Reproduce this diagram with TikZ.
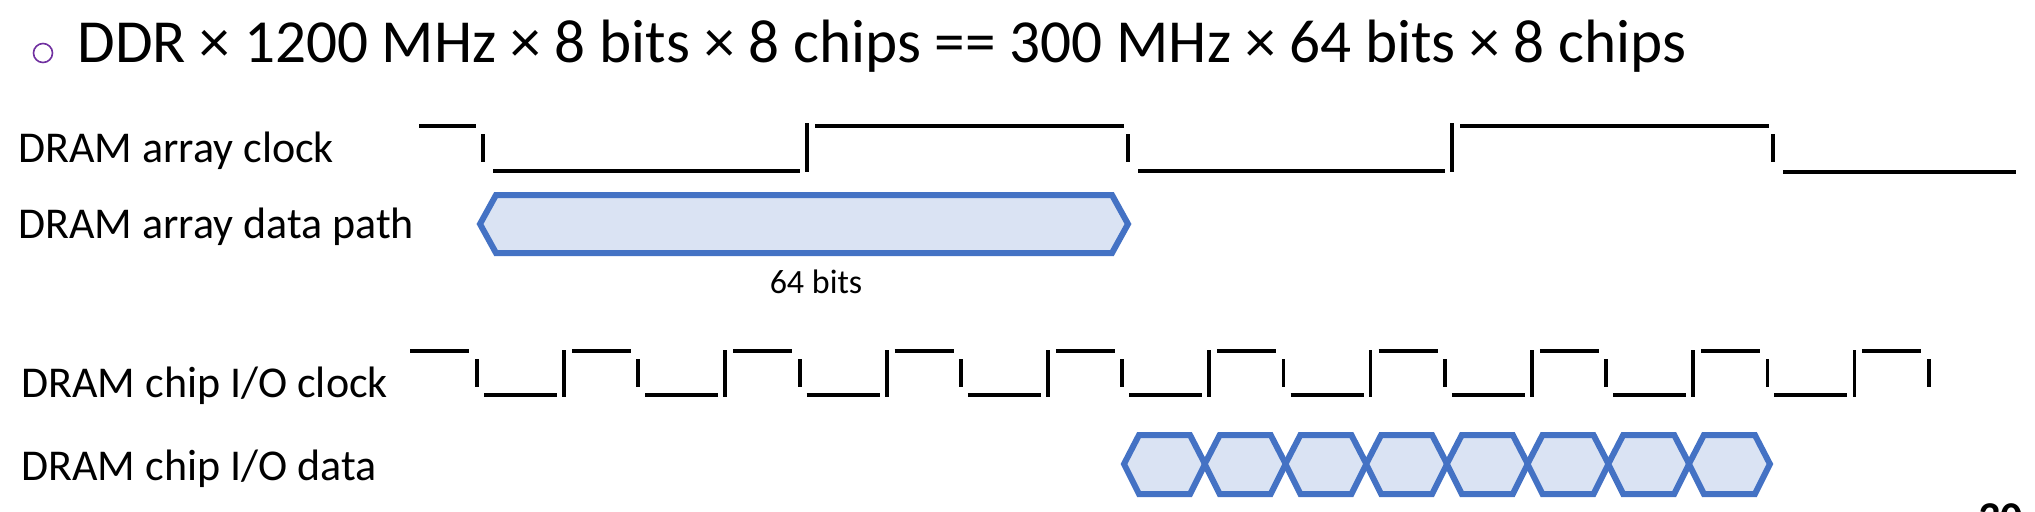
\documentclass[tikz,border=0pt]{standalone}
\usepackage{fontspec}
\setmainfont{Carlito}
\usetikzlibrary{positioning}
\definecolor{busblue}{RGB}{68,114,196}
\definecolor{busfill}{RGB}{218,227,243}
\definecolor{bulletpurple}{RGB}{112,48,160}
\tikzset{
  % Text styles
  titletext/.style={font=\fontsize{30.6}{36}\selectfont, anchor=base west, inner sep=0pt},
  siglabel/.style={font=\fontsize{22}{26}\selectfont, anchor=base west, inner sep=0pt},
  widthlabel/.style={font=\fontsize{17}{20}\selectfont, anchor=base, inner sep=0pt},
  % Clock strokes
  levelwire/.style={line width=2.3pt},
  edgewire/.style={line width=1.9pt},
  % Data bus cells
  bus/.style={draw=busblue, fill=busfill, line width=3pt, line join=miter},
}

\begin{document}
\begin{tikzpicture}[x=0.5pt, y=-0.5pt]
  \useasboundingbox (0,0) rectangle (2035,511);
  \clip (0,0) rectangle (2035,511);

  % --- TITLE ---
  \node[circle, draw=bulletpurple, line width=0.8pt, minimum size=9.5pt, inner sep=0pt] (bullet) at (43,53) {};
  \node[titletext] (title) at (77,62) {DDR × 1200 MHz × 8 bits × 8 chips == 300 MHz × 64 bits × 8 chips};

  % --- SIGNAL NAMES ---
  \node[siglabel] (arrclk) at (18,162) {DRAM array clock};
  \node[siglabel] (arrdata) at (18,238) {DRAM array data path};
  \node[siglabel] (ioclk) at (21,397) {DRAM chip I/O clock};
  \node[siglabel] (iodata) at (21,480) {DRAM chip I/O data};

  % --- ARRAY CLOCK (300 MHz) ---
  \draw[levelwire] (419,126) -- (476,126);
  \foreach \k in {0,1,2} {
    \pgfmathsetmacro{\xf}{483+645*\k}
    \draw[edgewire] (\xf,134) -- (\xf,162);
    \ifnum\k<2
      \draw[levelwire] (\xf+10,171) -- (\xf+317,171);
      \draw[edgewire] (\xf+324,123) -- (\xf+324,172);
      \draw[levelwire] (\xf+332,126) -- (\xf+641,126);
    \else
      \draw[levelwire] (\xf+10,172) -- (2016,172);
    \fi
  }

  % --- ARRAY DATA PATH ---
  \draw[bus] (480,224) -- (496,195) -- (1112,195) -- (1128,224) -- (1112,253) -- (496,253) -- cycle;
  \node[widthlabel] (arrwidth) at (816,293) {64 bits};

  % --- CHIP I/O CLOCK (1200 MHz) ---
  \draw[levelwire] (410,351) -- (469,351);
  \foreach \k in {0,...,9} {
    \pgfmathsetmacro{\xf}{477+161.3*\k}
    \draw[edgewire] (\xf,359) -- (\xf,387);
    \ifnum\k<9
      \draw[levelwire] (\xf+7,395) -- (\xf+80,395);
      \draw[edgewire] (\xf+87,350) -- (\xf+87,397);
      \draw[levelwire] (\xf+95,351) -- (\xf+154,351);
    \fi
  }

  % --- CHIP I/O DATA (8 beats) ---
  \foreach \k in {0,...,7} {
    \pgfmathsetmacro{\xa}{1124+80.7*\k}
    \draw[bus] (\xa,464) -- (\xa+15,435) -- (\xa+66,435) -- (\xa+81,464) -- (\xa+66,494) -- (\xa+15,494) -- cycle;
  }

  % slide number, cut by the page edge
  \node[siglabel, font=\fontsize{22}{26}\selectfont\bfseries] (pageno) at (1978,532) {30};

\end{tikzpicture}
\end{document}
